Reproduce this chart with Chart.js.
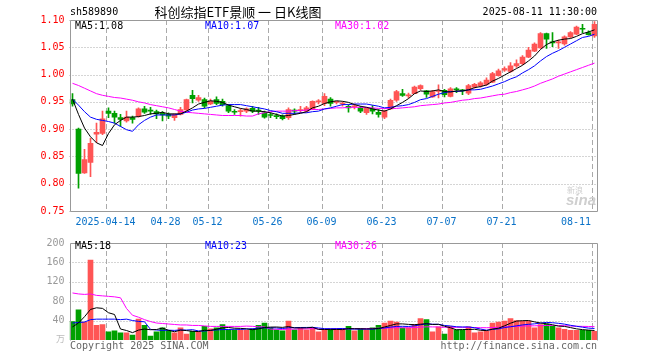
<!DOCTYPE html>
<html>
<head>
<meta charset="utf-8">
<script src="https://cdn.jsdelivr.net/npm/chart.js@4.4.1/dist/chart.umd.min.js"></script>
<style>
body { margin: 0; background: #fff; }
#wrap { position: relative; width: 660px; height: 360px; }
canvas { position: absolute; left: 0; }
#kline { top: 0; }
#vol { top: 232px; }
</style>
</head>
<body>
<div id="wrap">
  <canvas id="kline" width="660" height="232"></canvas>
  <canvas id="vol" width="660" height="128"></canvas>
</div>
<script>
const code = "sh589890";
const title = "科创综指ETF景顺 一 日K线图";
const stamp = "2025-08-11 11:30:00";
const priceLegend = ["MA5:1.08", "MA10:1.07", "MA30:1.02"];
const volLegend = ["MA5:18", "MA10:23", "MA30:26"];

const dates = [
  "2025-04-03","2025-04-07","2025-04-08","2025-04-09","2025-04-10","2025-04-11","2025-04-14","2025-04-15","2025-04-16","2025-04-17",
  "2025-04-18","2025-04-21","2025-04-22","2025-04-23","2025-04-24","2025-04-25","2025-04-28","2025-04-29","2025-04-30","2025-05-06",
  "2025-05-07","2025-05-08","2025-05-09","2025-05-12","2025-05-13","2025-05-14","2025-05-15","2025-05-16","2025-05-19","2025-05-20",
  "2025-05-21","2025-05-22","2025-05-23","2025-05-26","2025-05-27","2025-05-28","2025-05-29","2025-05-30","2025-06-03","2025-06-04",
  "2025-06-05","2025-06-06","2025-06-09","2025-06-10","2025-06-11","2025-06-12","2025-06-13","2025-06-16","2025-06-17","2025-06-18",
  "2025-06-19","2025-06-20","2025-06-23","2025-06-24","2025-06-25","2025-06-26","2025-06-27","2025-06-30","2025-07-01","2025-07-02",
  "2025-07-03","2025-07-04","2025-07-07","2025-07-08","2025-07-09","2025-07-10","2025-07-11","2025-07-14","2025-07-15","2025-07-16",
  "2025-07-17","2025-07-18","2025-07-21","2025-07-22","2025-07-23","2025-07-24","2025-07-25","2025-07-28","2025-07-29","2025-07-30",
  "2025-07-31","2025-08-01","2025-08-04","2025-08-05","2025-08-06","2025-08-07","2025-08-08","2025-08-11"
];

// dates that get a dashed line + label
const tickDates = ["2025-04-14","2025-04-28","2025-05-12","2025-05-26","2025-06-09","2025-06-23","2025-07-07","2025-07-21","2025-08-11"];
const tickText = ["2025-04-14","04-28","05-12","05-26","06-09","06-23","07-07","07-21","08-11"];
const priceTicks = [0.75, 0.80, 0.85, 0.90, 0.95, 1.00, 1.05, 1.10];
const volTicks = [0, 40, 80, 120, 160, 200];

const open = [
  .954,.900,.820,.839,.891,.892,.933,.929,.921,.915, .921,.924,.937,.934,.932,.929,.927,.921,.927,.935,
  .962,.953,.954,.946,.954,.951,.943,.932,.932,.933, .938,.934,.930,.926,.924,.924,.921,.934,.934,.933,
  .937,.950,.947,.955,.949,.946,.942,.941,.939,.930, .937,.931,.922,.937,.953,.965,.961,.965,.974,.970,
  .959,.969,.971,.960,.973,.971,.966,.977,.979,.982, .986,.998,1.008,1.006,1.016,1.020,1.032,1.043,1.049,1.075,
  1.060,1.058,1.056,1.069,1.074,1.084,1.077,1.071
];
const high = [
  .965,.902,.863,.883,.911,.933,.939,.933,.927,.933, .924,.939,.942,.940,.935,.932,.930,.928,.940,.955,
  .971,.962,.957,.955,.959,.955,.945,.936,.937,.939, .942,.940,.933,.930,.928,.926,.939,.937,.942,.942,
  .952,.954,.965,.958,.951,.950,.945,.946,.942,.940, .943,.936,.935,.955,.971,.973,.966,.979,.981,.971,
  .971,.981,.973,.976,.976,.973,.982,.984,.987,.994, 1.004,1.010,1.014,1.022,1.027,1.035,1.050,1.058,1.077,1.076,
  1.077,1.063,1.071,1.079,1.089,1.092,1.080,1.097
];
const low = [
  .942,.792,.819,.813,.875,.890,.921,.911,.905,.913, .911,.922,.929,.927,.919,.915,.919,.916,.926,.933,
  .948,.951,.939,.945,.945,.942,.930,.927,.924,.930, .930,.927,.920,.921,.919,.917,.918,.927,.930,.931,
  .936,.946,.943,.942,.946,.942,.931,.937,.930,.927, .928,.922,.919,.936,.951,.960,.957,.965,.972,.958,
  .958,.957,.959,.959,.967,.963,.963,.975,.977,.980, .985,.997,1.006,1.004,1.013,1.018,1.031,1.042,1.048,1.048,
  1.051,1.048,1.054,1.067,1.073,1.077,1.072,1.068
];
const close = [
  .946,.819,.844,.874,.894,.919,.929,.922,.918,.922, .918,.937,.931,.933,.928,.926,.924,.927,.936,.954,
  .956,.958,.942,.951,.947,.945,.933,.931,.933,.937, .933,.933,.922,.925,.923,.919,.936,.933,.935,.939,
  .951,.951,.960,.947,.950,.947,.939,.942,.933,.939, .933,.927,.933,.953,.969,.962,.962,.977,.980,.964,
  .969,.970,.963,.974,.972,.970,.980,.982,.985,.990, 1.002,1.007,1.011,1.016,1.020,1.032,1.045,1.056,1.075,1.065,
  1.058,1.060,1.069,1.077,1.087,1.083,1.073,1.092
];

const ma5 = [
  .955,.927,.902,.886,.875,.870,.892,.908,.916,.922, .922,.923,.925,.928,.929,.931,.928,.928,.928,.933,
  .939,.946,.949,.952,.951,.949,.944,.941,.938,.936, .933,.933,.932,.930,.927,.924,.925,.927,.929,.932,
  .939,.942,.947,.950,.952,.951,.949,.945,.942,.940, .937,.935,.933,.937,.943,.949,.956,.965,.970,.969,
  .970,.972,.969,.968,.970,.970,.972,.976,.978,.981, .988,.993,.999,1.005,1.011,1.017,1.025,1.034,1.046,1.055,
  1.060,1.063,1.065,1.066,1.070,1.075,1.078,1.082
];
const ma10 = [
  .955,.944,.932,.922,.918,.916,.914,.911,.905,.899, .896,.908,.916,.922,.926,.926,.926,.926,.928,.931,
  .935,.937,.938,.940,.942,.944,.945,.945,.945,.943, .941,.939,.937,.934,.932,.929,.929,.929,.930,.930,
  .932,.933,.937,.939,.942,.945,.945,.946,.946,.946, .944,.942,.939,.940,.942,.943,.945,.949,.954,.956,
  .960,.964,.967,.969,.969,.970,.972,.972,.973,.976, .979,.983,.987,.992,.996,1.003,1.009,1.016,1.025,1.033,
  1.039,1.044,1.050,1.056,1.062,1.068,1.070,1.074
];
const ma30 = [
  .984,.980,.975,.970,.965,.962,.960,.958,.957,.955, .953,.950,.948,.945,.943,.941,.939,.936,.933,.931,
  .930,.929,.928,.927,.926,.925,.925,.925,.925,.924, .924,.928,.930,.932,.933,.933,.933,.934,.934,.935,
  .936,.936,.937,.938,.939,.939,.940,.940,.940,.940, .939,.938,.938,.938,.938,.939,.940,.941,.943,.944,
  .945,.946,.948,.949,.951,.953,.954,.956,.957,.959, .961,.963,.964,.967,.969,.972,.975,.979,.984,.988,
  .992,.997,1.001,1.005,1.009,1.013,1.017,1.021
];

// volume, in 万
const volume = [
  38,62,37,165,30,32,17,19,15,15, 10,43,30,8,17,25,20,15,25,12,
  18,17,28,23,25,32,21,21,21,20, 23,30,35,25,21,19,39,21,25,21,
  25,17,21,23,23,23,28,19,23,21, 25,30,35,39,37,25,25,32,44,42,
  17,27,12,28,21,20,27,15,17,18, 35,37,39,44,40,39,39,25,32,33,
  28,25,22,20,20,20,20,18
];
const volMa5 = [
  27,35,48,63,66.4,65.2,56.2,52.6,22.6,19.6, 15.2,20.4,22.6,21.2,21.6,24.6,20,17,20.4,19.4,
  18,17.4,20,19.6,22.2,25,25.8,24.4,24,23, 21.2,23,25.8,26.6,26.8,26,27.8,25,25,25,
  26.2,21.8,21.8,21.4,21.8,21.4,23.6,23.2,23.2,22.8, 23.2,23.6,26.8,30,33.2,33.2,32.2,31.6,32.6,33.6,
  32,32.4,28.4,25.2,21,21.6,21.6,22.2,20,19.4, 22.4,24.4,29.2,34.6,39,39.8,40.2,37.4,35,33.6,
  31.4,28.6,28,25.6,23,21.4,20.4,19.6
];
const volMa10 = [
  35,36,37,42,43,43,43,43,42,43, 40.2,38.3,37.6,21.9,20.6,19.9,20.2,19.8,20.8,20.5,
  21.3,18.7,18.5,20,20.8,21.5,21.6,22.2,21.8,22.6, 23.1,24.4,25.1,25.3,24.9,23.6,25.4,25.4,25.8,25.9,
  26.1,24.8,23.4,23.2,23.4,23.8,22.7,22.5,22.3,22.3, 22.3,23.6,25,26.6,28,28.2,27.9,29.2,31.3,33.4,
  32.6,32.3,30,28.9,27.3,26.8,27,25.3,22.6,20.2, 22,23,25.7,27.3,29.2,31.1,32.3,33.3,34.8,36.3,
  35.6,34.4,32.7,30.3,28.3,26.4,24.5,23.8
];
const volMa30 = [
  97,95,94,95,92,91,90,89,87,65, 51,47,42,38,35,34,33,32,31,31,
  30,30,29,28,28,28,28,28,28,28.7, 28.2,27.1,27.1,22.4,22.1,21.7,22.4,22.5,22.8,23,
  23.5,22.6,22.3,22.8,23,23,23.2,23.4,23.3,23.6, 23.8,24.3,24.5,25,25.4,25.2,25.3,25.7,26.5,27.2,
  27,26.9,26.1,26.2,26.2,26.3,25.9,25.7,25.4,25.3, 25.6,26.3,26.9,27.6,28.2,28.7,29.1,29.3,29.6,30,
  30.1,29.9,29.5,28.8,28.3,28.1,27.9,27.5
];

const UP = "#ff5555";
const DOWN = "#00a000";
const maColors = ["#000000", "#0000ff", "#ff00ff"];
const mono = '10px "DejaVu Sans Mono", monospace';
const candleColors = close.map((c, i) => (c >= open[i] ? UP : DOWN));

function maLine(data, color) {
  return {
    type: "line", data: data, borderColor: color, borderWidth: 1,
    pointRadius: 0, tension: 0, order: 0
  };
}

// dashed date lines + dotted value lines, under the candles
function drawGrid(chart, values) {
  const { ctx, chartArea: a, scales: { x, y } } = chart;
  ctx.save();
  ctx.strokeStyle = "#aaa";
  ctx.lineWidth = 1;
  ctx.setLineDash([1, 2]);
  values.forEach(v => {
    const py = Math.round(y.getPixelForValue(v)) + 0.5;
    ctx.beginPath(); ctx.moveTo(a.left, py); ctx.lineTo(a.right, py); ctx.stroke();
  });
  ctx.setLineDash([5, 3]);
  tickDates.forEach(d => {
    const px = Math.floor(x.getPixelForValue(dates.indexOf(d)) - 2.5) + 0.5;
    ctx.beginPath(); ctx.moveTo(px, a.top); ctx.lineTo(px, a.bottom); ctx.stroke();
  });
  ctx.restore();
}

function drawFrame(chart, withBottom) {
  const { ctx, chartArea: a } = chart;
  const l = Math.floor(a.left) + 1.5, r = Math.floor(a.right) + 0.5;
  const t = Math.round(a.top) + 0.5, b = Math.round(a.bottom) + 0.5;
  ctx.save();
  ctx.strokeStyle = "#999";
  ctx.lineWidth = 1;
  ctx.beginPath();
  ctx.moveTo(l, b); ctx.lineTo(l, t); ctx.lineTo(r, t); ctx.lineTo(r, b);
  if (withBottom) ctx.lineTo(l, b);
  ctx.stroke();
  ctx.restore();
}

function drawLegend(ctx, labels, y) {
  ctx.font = mono;
  ctx.textBaseline = "middle";
  ctx.textAlign = "left";
  [75, 205, 335].forEach((px, k) => {
    ctx.fillStyle = maColors[k];
    ctx.fillText(labels[k], px, y);
  });
}

const klinePlugin = {
  id: "klineDecor",
  beforeDatasetsDraw(chart) { drawGrid(chart, priceTicks); },
  afterDraw(chart) {
    const { ctx, scales: { x } } = chart;
    drawFrame(chart, true);
    ctx.save();
    ctx.textBaseline = "middle";
    ctx.fillStyle = "#000";
    ctx.font = mono;
    ctx.textAlign = "left";
    ctx.fillText(code, 70, 12);
    ctx.textAlign = "right";
    ctx.fillText(stamp, 597, 12);
    ctx.font = '13px "Noto Sans CJK SC", sans-serif';
    ctx.textAlign = "center";
    ctx.fillText(title, 238, 12);
    drawLegend(ctx, priceLegend, 26);

    // date labels
    ctx.font = mono;
    ctx.fillStyle = "#0a72c8";
    tickDates.forEach((d, k) => {
      const px = x.getPixelForValue(dates.indexOf(d)) - 3;
      if (k === tickDates.length - 1) {
        ctx.textAlign = "right";
        ctx.fillText(tickText[k], 591, 222);
      } else {
        ctx.textAlign = "center";
        ctx.fillText(tickText[k], px, 222);
      }
    });

    // sina watermark
    ctx.fillStyle = "#cfcfcf";
    ctx.textAlign = "right";
    ctx.font = 'italic bold 15px "Liberation Sans", sans-serif';
    ctx.fillText("sina", 596, 201);
    ctx.font = '8px "Noto Sans CJK SC", sans-serif';
    ctx.fillText("新浪", 583, 190);
    ctx.restore();
  }
};

const volPlugin = {
  id: "volDecor",
  beforeDatasetsDraw(chart) { drawGrid(chart, volTicks.slice(1, -1)); },
  afterDraw(chart) {
    const { ctx } = chart;
    drawFrame(chart, false);
    ctx.save();
    drawLegend(ctx, volLegend, 14);
    ctx.font = mono;
    ctx.textBaseline = "middle";
    ctx.fillStyle = "#bbb";
    ctx.textAlign = "right";
    ctx.font = '9px "Noto Sans CJK SC", sans-serif';
    ctx.fillText("万", 65, 107);
    ctx.font = mono;
    ctx.fillStyle = "#666";
    ctx.textAlign = "left";
    ctx.fillText("Copyright 2025 SINA.COM", 70, 114);
    ctx.textAlign = "right";
    ctx.fillText("http://finance.sina.com.cn", 597, 114);
    ctx.restore();
  }
};

function xScale(height) {
  return {
    offset: true,
    grid: { display: false },
    border: { display: false },
    ticks: { display: false },
    afterFit(s) { s.height = height; }
  };
}

function yScale(min, max, values, color, fmt) {
  return {
    min: min, max: max,
    grid: { display: false, drawTicks: false },
    border: { display: false },
    afterBuildTicks(s) { s.ticks = values.map(v => ({ value: v })); },
    ticks: { color: color, font: { family: "DejaVu Sans Mono", size: 10 }, padding: 5, callback: fmt },
    afterFit(s) { s.width = 69.5; }
  };
}

new Chart(document.getElementById("kline"), {
  type: "bar",
  data: {
    labels: dates,
    datasets: [
      maLine(ma5, maColors[0]),
      maLine(ma10, maColors[1]),
      maLine(ma30, maColors[2]),
      {
        data: open.map((o, i) => [o, close[i]]),
        backgroundColor: candleColors, barThickness: 5, minBarLength: 1,
        grouped: false, order: 1
      },
      {
        data: low.map((l, i) => [l, high[i]]),
        backgroundColor: candleColors, barThickness: 1, minBarLength: 1,
        grouped: false, order: 2
      }
    ]
  },
  options: {
    responsive: false,
    devicePixelRatio: 1,
    animation: false,
    layout: { autoPadding: false, padding: { left: 0, right: 62.5, top: 20, bottom: 0 } },
    plugins: { legend: { display: false }, tooltip: { enabled: false } },
    scales: {
      x: xScale(21),
      y: yScale(0.75, 1.10, priceTicks, "#ff0000", v => v.toFixed(2))
    }
  },
  plugins: [klinePlugin]
});

new Chart(document.getElementById("vol"), {
  type: "bar",
  data: {
    labels: dates,
    datasets: [
      maLine(volMa5, maColors[0]),
      maLine(volMa10, maColors[1]),
      maLine(volMa30, maColors[2]),
      {
        data: volume, backgroundColor: candleColors, barThickness: 5,
        grouped: false, order: 1
      }
    ]
  },
  options: {
    responsive: false,
    devicePixelRatio: 1,
    animation: false,
    layout: { autoPadding: false, padding: { left: 0, right: 62.5, top: 8, bottom: 0 } },
    plugins: { legend: { display: false }, tooltip: { enabled: false } },
    scales: {
      x: xScale(20),
      y: yScale(0, 200, volTicks, "#999", v => (v === 0 ? "" : v))
    }
  },
  plugins: [volPlugin]
});
</script>
</body>
</html>
